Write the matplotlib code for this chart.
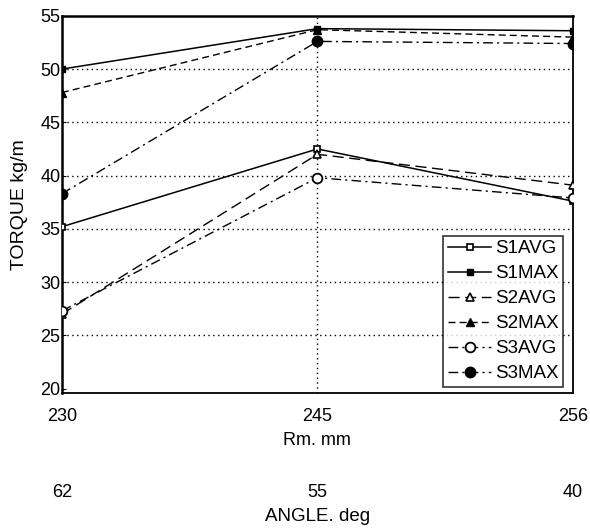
import matplotlib
matplotlib.use("Agg")
import matplotlib.pyplot as plt

plt.rcParams['font.family'] = ['Liberation Sans', 'DejaVu Sans']

rm_labels = ['230', '245', '256']
angle_labels = ['62', '55', '40']

s1avg = [35.2, 42.5, 37.6]
s1max = [50.0, 53.8, 53.6]
s2avg = [27.0, 42.0, 39.1]
s2max = [47.8, 53.7, 53.0]
s3avg = [27.3, 39.8, 37.9]
s3max = [38.3, 52.6, 52.4]

x = range(len(rm_labels))

fig = plt.figure(figsize=(5.9, 5.28), dpi=100)
ax = fig.add_axes([0.105, 0.256, 0.866, 0.714])

# dotted grid, drawn by hand so the edges stay clean
for yv in [25, 30, 35, 40, 45, 50]:
    ax.axhline(yv, color='black', ls=(0, (1, 2.5)), lw=1.0, zorder=1)
ax.axvline(1, color='black', ls=(0, (1, 2.5)), lw=1.0, zorder=1)

mk = 6
ax.plot(x, s1avg, color='black', ls='-', lw=1.1, marker='s', ms=mk - 1,
        mfc='white', mec='black', mew=1.2, label='S1AVG', zorder=3)
ax.plot(x, s1max, color='black', ls='-', lw=1.1, marker='s', ms=mk - 1,
        mfc='black', mec='black', label='S1MAX', zorder=3)
ax.plot(x, s2avg, color='black', ls=(0, (8, 4)), lw=1.0, marker='^', ms=mk,
        mfc='white', mec='black', mew=1.2, label='S2AVG', zorder=3)
ax.plot(x, s2max, color='black', ls=(0, (5, 3)), lw=1.0, marker='^', ms=mk,
        mfc='black', mec='black', label='S2MAX', zorder=3)
ax.plot(x, s3avg, color='black', ls=(0, (7, 3, 1.5, 3)), lw=1.0, marker='o', ms=mk + 1,
        mfc='white', mec='black', mew=1.3, label='S3AVG', zorder=3)
ax.plot(x, s3max, color='black', ls=(0, (7, 3, 1.5, 3)), lw=1.0, marker='o', ms=mk + 1.5,
        mfc='black', mec='black', label='S3MAX', zorder=3)

ax.set_xlim(0, 2)
ax.set_ylim(19.6, 55)
ax.set_yticks([20, 25, 30, 35, 40, 45, 50, 55])
ax.set_xticks(list(x))
ax.set_xticklabels(rm_labels)
ax.tick_params(axis='x', length=0, pad=11, labelsize=13)
ax.tick_params(axis='y', length=3, direction='in', pad=1, labelsize=13)
ax.set_xlabel('Rm. mm', fontsize=13, labelpad=5)
ax.set_ylabel('TORQUE kg/m', fontsize=14, labelpad=9)

for side in ['left', 'top']:
    ax.spines[side].set_linewidth(1.8)
for side in ['right', 'bottom']:
    ax.spines[side].set_linewidth(1.3)

sec = ax.secondary_xaxis(-0.235)
sec.set_xticks(list(x))
sec.set_xticklabels(angle_labels)
sec.spines['bottom'].set_visible(False)
sec.tick_params(length=0, pad=2, labelsize=13)
sec.set_xlabel('ANGLE. deg', fontsize=13.5, labelpad=5)

leg = ax.legend(loc='lower right', bbox_to_anchor=(0.981, 0.015), fontsize=13.5,
                frameon=True, fancybox=False, edgecolor='black',
                handlelength=2.3, handletextpad=0.2, labelspacing=0.42,
                borderpad=0.25, borderaxespad=0.0)
leg.get_frame().set_linewidth(1.2)

fig.savefig('out.png', dpi=100)
